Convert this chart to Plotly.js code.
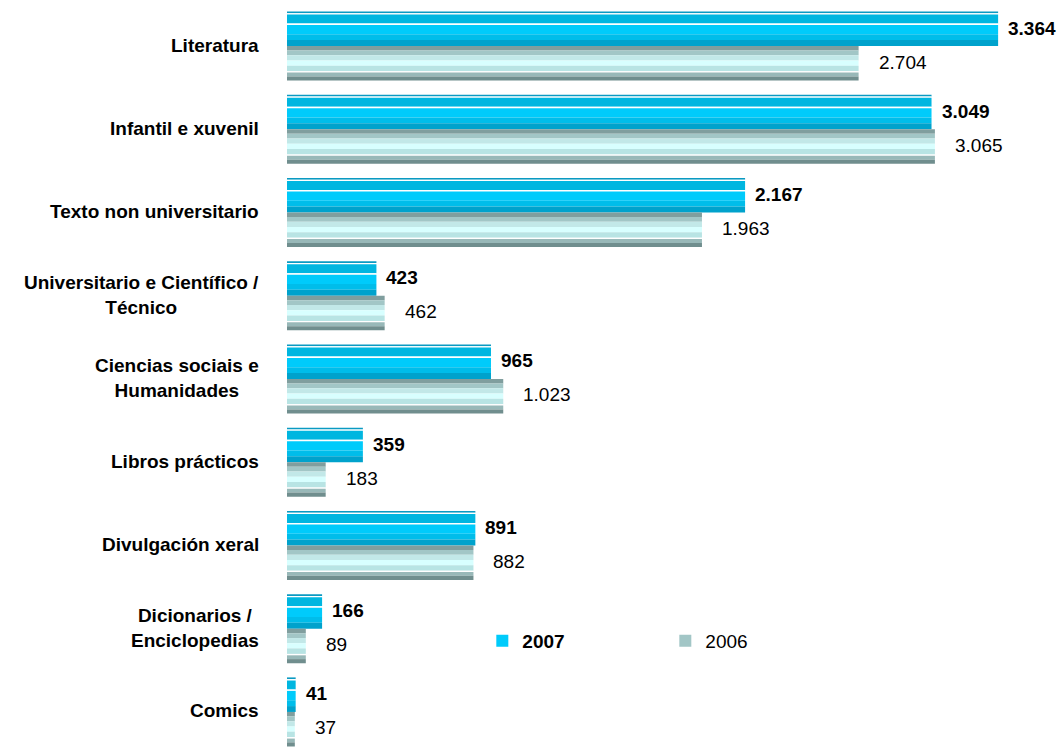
<!DOCTYPE html>
<html>
<head>
<meta charset="utf-8">
<script src="https://cdn.plot.ly/plotly-3.0.1.min.js"></script>
<style>html,body{margin:0;padding:0;background:#fff;}#chart{width:1059px;height:749px;}</style>
</head>
<body>
<div id="chart"></div>
<script>
// ---- data ----
const categories = ['Literatura', 'Infantil e xuvenil', 'Texto non universitario',
  'Universitario e Científico /<br>Técnico', 'Ciencias sociais e<br>Humanidades',
  'Libros prácticos', 'Divulgación xeral', 'Dicionarios /<br>Enciclopedias', 'Comics'];
const values2007 = [3364, 3049, 2167, 423, 965, 359, 891, 166, 41];
const values2006 = [2704, 3065, 1963, 462, 1023, 183, 882, 89, 37];
const seriesNames = ['2007', '2006'];

// ---- style ----
const FONT = '"Liberation Sans", Arial, sans-serif';
const H = 0.415; // bar thickness in category units
// bands: [fromFrac, toFrac, color] measured from bar top
const bands2007 = [
  [0.00, 0.05, '#0A9AC2'], [0.05, 0.09, '#FFFFFF'], [0.09, 0.35, '#00B6E0'],
  [0.35, 0.39, '#FFFFFF'], [0.39, 0.66, '#00CBFB'], [0.66, 0.83, '#00BDEA'],
  [0.83, 1.00, '#00A2CC']
];
const bands2006 = [
  [0.00, 0.13, '#809E9E'], [0.13, 0.27, '#A2C6C6'], [0.27, 0.42, '#C2E8E8'],
  [0.42, 0.57, '#D8FFFF'], [0.57, 0.73, '#B8E4E4'], [0.73, 0.77, '#FFFFFF'],
  [0.77, 0.88, '#98B8B8'], [0.88, 1.00, '#708E8E']
];

const yIdx = categories.map((c, i) => i);
const traces = [];
function addSeries(vals, bands, base, name, legendBand) {
  bands.forEach((b, k) => {
    traces.push({
      type: 'bar', orientation: 'h',
      x: vals, y: yIdx,
      width: (b[1] - b[0]) * H,
      offset: base + b[0] * H,
      marker: {color: b[2], line: {width: 0}},
      name: name,
      legendgroup: name,
      showlegend: k === legendBand,
      hoverinfo: 'x'
    });
  });
}
addSeries(values2007, bands2007, -H, '<b>' + seriesNames[0] + '</b>', 4);
addSeries(values2006, bands2006, 0, seriesNames[1], 1);

const fmt = v => v.toString().replace(/\B(?=(\d{3})+(?!\d))/g, '.');
const annotations = [];
categories.forEach((c, i) => {
  annotations.push({
    x: 0, xref: 'paper', y: i, yref: 'y', xanchor: 'right', yanchor: 'middle',
    xshift: -26, yshift: 1, align: 'center', showarrow: false, text: '<b>' + c + '</b>',
    font: {family: FONT, size: 19, color: '#000'}
  });
  annotations.push({
    x: values2007[i], xref: 'x', y: i, yref: 'y', xanchor: 'left', yanchor: 'middle',
    xshift: 8, yshift: 18, showarrow: false, text: '<b>' + fmt(values2007[i]) + '</b>',
    font: {family: FONT, size: 19, color: '#000'}
  });
  annotations.push({
    x: values2006[i], xref: 'x', y: i, yref: 'y', xanchor: 'left', yanchor: 'middle',
    xshift: 18, yshift: -16, showarrow: false, text: fmt(values2006[i]),
    font: {family: FONT, size: 19, color: '#000'}
  });
});

const layout = {
  width: 1059, height: 749,
  margin: {l: 287, r: 0, t: 4, b: 0},
  paper_bgcolor: '#fff', plot_bgcolor: '#fff',
  barmode: 'overlay',
  separators: ',.',
  font: {family: FONT, size: 19, color: '#000'},
  xaxis: {range: [0, 3652], showgrid: false, zeroline: false, showticklabels: false,
          showline: false, ticks: '', fixedrange: true},
  yaxis: {range: [8.445, -0.5045], showgrid: false, zeroline: false, showticklabels: false,
          showline: false, ticks: '', fixedrange: true},
  showlegend: true,
  legend: {orientation: 'h', x: 0.253, xanchor: 'left', y: 0.145, yanchor: 'middle',
           traceorder: 'normal', entrywidth: 138, entrywidthmode: 'pixels',
           font: {family: FONT, size: 19, color: '#000'}, bgcolor: 'rgba(0,0,0,0)'},
  annotations: annotations
};

Plotly.newPlot('chart', traces, layout, {displayModeBar: false, staticPlot: true});
</script>
</body>
</html>
